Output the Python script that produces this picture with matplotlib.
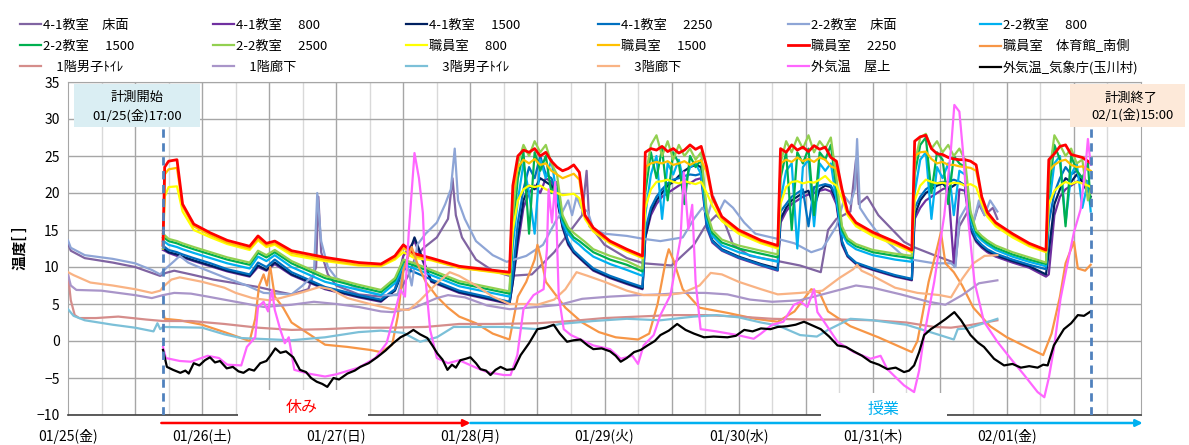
import matplotlib
matplotlib.use("Agg")
import matplotlib.pyplot as plt
from matplotlib.patches import Rectangle
from matplotlib.transforms import blended_transform_factory

plt.rcParams["font.family"] = ["Noto Sans CJK JP", "DejaVu Sans"]

# time axis: hours counted from 01/25 00:00
day_labels = ["01/25(金)", "01/26(土)", "01/27(日)", "01/28(月)", "01/29(火)",
              "01/30(水)", "01/31(木)", "02/01(金)", ""]
start_h, end_h = 17.0, 183.0

# common sampling hours for the classroom / staff-room loggers
t_room = [
    17.0, 17.3, 18.0, 19.5, 20.5, 22.5, 25.5, 28.5, 32.5, 34.0, 35.5, 37.0, 40.0, 46.0, 52.0, 56.0, 58.5, 60.0, 62.0, 65.0, 70.0, 79.0,
    79.6, 80.5, 81.5, 82.5, 83.5, 84.5, 85.5, 86.5, 87.5, 88.5, 89.5, 90.5, 91.5, 92.5, 94.0, 97.0, 100.0, 102.8,
    103.3, 104.3, 105.3, 106.3, 107.3, 108.3, 109.3, 110.3, 111.3, 112.3, 113.3, 114.3, 115.3, 117.0, 120.0, 124.0, 127.0,
    127.5, 128.5, 129.5, 130.5, 131.5, 132.5, 133.5, 134.5, 135.5, 136.5, 137.5, 138.5, 139.5, 141.0, 144.0, 148.0, 151.0,
    151.5, 152.5, 153.5, 154.5, 155.5, 156.5, 157.5, 158.5, 159.5, 160.5, 161.5, 162.5, 163.5, 164.5, 166.0, 169.0, 172.0, 175.0,
    175.5, 176.5, 177.5, 178.5, 179.5, 180.5, 181.5, 182.5, 183.0,
]

staff_2250 = [
    13.0, 23.5, 24.3, 24.5, 18.5, 15.8, 14.6, 13.6, 12.8, 14.2, 13.2, 13.5, 12.2, 11.3, 10.6, 10.4, 11.5, 13.0, 11.8, 11.2, 10.1, 9.3,
    21.0, 25.0, 25.8, 25.5, 26.0, 25.0, 25.5, 24.3, 23.5, 23.0, 23.3, 23.8, 22.8, 17.0, 15.3, 13.5, 12.4, 11.5,
    25.5, 26.0, 25.8, 26.3, 25.6, 26.0, 25.4, 25.8, 26.5, 25.9, 26.3, 23.5, 19.5, 16.8, 15.0, 13.6, 12.9,
    26.0, 25.5, 26.5, 25.8, 26.2, 25.6, 26.4, 25.9, 26.2, 24.8, 24.3, 20.5, 17.5, 16.0, 14.7, 13.4, 12.3,
    27.0, 27.6, 27.8, 26.0, 25.3, 25.2, 24.8, 24.6, 24.5, 24.5, 24.3, 23.8, 19.5, 17.4, 16.0, 14.5, 13.2, 12.3,
    24.5, 25.3, 26.3, 26.5, 25.2, 25.0, 24.8, 24.3, 24.0,
]
staff_1500 = [
    12.8, 22.5, 23.2, 23.4, 18.2, 15.5, 14.3, 13.3, 12.5, 13.8, 12.9, 13.2, 11.9, 11.0, 10.3, 10.2, 11.2, 12.6, 11.5, 11.0, 9.9, 9.1,
    20.0, 23.5, 24.5, 24.0, 24.6, 23.8, 24.0, 23.0, 22.5, 22.0, 22.3, 22.6, 21.8, 16.8, 15.0, 13.3, 12.2, 11.3,
    23.5, 24.0, 24.2, 24.0, 24.3, 23.8, 24.0, 24.3, 23.8, 24.2, 24.4, 22.8, 19.2, 16.6, 14.8, 13.4, 12.7,
    24.0, 24.5, 24.2, 24.8, 24.3, 24.6, 24.2, 24.8, 24.5, 23.6, 23.3, 20.2, 17.3, 15.8, 14.5, 13.2, 12.1,
    25.0, 25.5, 25.6, 24.6, 24.0, 24.2, 23.8, 23.8, 23.6, 23.5, 23.4, 23.0, 19.3, 17.2, 15.8, 14.3, 13.0, 12.1,
    23.0, 23.8, 24.3, 24.5, 23.8, 23.5, 23.6, 23.2, 23.0,
]
staff_800 = [
    12.5, 19.5, 20.8, 20.9, 17.5, 15.0, 14.0, 13.1, 12.3, 13.6, 12.7, 13.0, 11.6, 10.8, 10.2, 10.1, 11.0, 12.0, 11.2, 10.9, 9.9, 9.0,
    15.0, 19.0, 20.5, 21.0, 20.8, 21.0, 20.5, 20.2, 20.0, 19.7, 19.8, 19.9, 19.3, 16.5, 14.8, 13.2, 12.1, 11.2,
    18.0, 20.5, 21.5, 21.6, 21.8, 21.5, 21.3, 21.6, 21.4, 21.2, 21.5, 20.0, 18.3, 16.2, 14.5, 13.2, 12.5,
    18.5, 20.8, 21.5, 21.6, 21.3, 21.5, 21.4, 21.8, 22.3, 21.5, 21.0, 19.3, 17.0, 15.5, 14.2, 13.0, 12.0,
    19.0, 21.0, 21.8, 21.5, 21.3, 21.4, 21.2, 21.4, 21.3, 21.0, 21.2, 20.8, 18.6, 16.8, 15.5, 14.0, 12.8, 12.0,
    18.5, 20.3, 21.0, 21.5, 21.2, 21.5, 21.3, 21.0, 20.8,
]
room22_2500 = [
    14.5, 14.3, 13.8, 13.5, 13.2, 12.7, 12.0, 11.3, 10.6, 12.2, 11.6, 12.3, 10.8, 8.8, 7.6, 6.9, 8.5, 11.0, 10.5, 9.6, 8.1, 6.7,
    17.0, 24.0, 26.5, 25.0, 27.0, 25.5, 26.5, 24.0, 22.5, 17.0, 15.4, 14.6, 14.0, 13.4, 12.4, 11.5, 10.8, 9.8,
    22.0, 26.5, 27.8, 25.0, 27.0, 24.5, 26.5, 25.0, 26.0, 24.5, 25.5, 17.5, 15.0, 13.7, 12.9, 12.2, 11.7,
    24.0, 27.0, 25.5, 27.5, 26.0, 27.8, 25.5, 27.0, 26.0, 27.5, 22.0, 15.5, 13.9, 13.1, 12.3, 11.8, 11.5,
    24.0, 27.5, 28.0, 26.0, 27.0, 25.5, 26.5, 25.0, 26.0, 24.5, 17.5, 15.0, 14.2, 13.6, 12.9, 12.0, 11.3, 10.6,
    22.0, 27.8, 26.5, 25.0, 26.0, 24.0, 24.5, 19.0, 20.5,
]
room22_1500 = [
    14.0, 13.9, 13.5, 13.2, 12.9, 12.4, 11.7, 11.0, 10.3, 11.9, 11.3, 12.0, 10.5, 8.5, 7.3, 6.6, 8.2, 10.7, 10.2, 9.3, 7.8, 6.4,
    15.0, 22.0, 25.5, 14.5, 25.5, 23.0, 25.0, 20.0, 21.5, 16.5, 15.0, 14.0, 13.5, 12.9, 12.0, 11.0, 10.3, 9.4,
    20.0, 25.5, 22.0, 26.0, 19.0, 25.5, 24.0, 18.5, 25.0, 23.5, 24.5, 17.0, 14.6, 13.3, 12.5, 11.8, 11.3,
    22.0, 25.5, 15.0, 25.5, 24.0, 26.0, 17.0, 25.5, 24.5, 26.5, 20.5, 15.0, 13.6, 12.8, 12.0, 11.5, 11.2,
    22.5, 26.5, 27.5, 20.0, 25.5, 24.5, 18.5, 25.0, 24.0, 23.5, 17.0, 14.7, 13.9, 13.3, 12.6, 11.7, 11.0, 10.4,
    20.0, 26.5, 24.5, 15.5, 25.0, 23.0, 22.0, 24.0, 18.5,
]
room22_800 = [
    13.5, 13.4, 13.0, 12.7, 12.4, 11.9, 11.2, 10.5, 9.8, 11.4, 10.8, 11.6, 10.0, 8.0, 6.9, 6.2, 7.8, 10.3, 9.8, 8.9, 7.4, 6.0,
    13.0, 19.0, 24.0, 20.0, 14.5, 24.5, 22.0, 24.5, 19.5, 16.0, 14.5, 13.6, 13.0, 12.3, 11.4, 10.4, 9.6, 8.8,
    17.0, 22.5, 25.0, 16.5, 24.0, 22.5, 24.5, 21.0, 23.5, 24.0, 22.5, 16.5, 14.2, 12.9, 12.0, 11.2, 10.7,
    19.0, 23.0, 24.0, 12.5, 23.5, 24.5, 15.5, 24.0, 23.0, 24.0, 19.0, 14.5, 13.2, 12.4, 11.6, 11.0, 10.7,
    20.0, 24.5, 25.5, 16.5, 23.5, 22.0, 24.0, 17.0, 23.0, 22.5, 16.5, 14.4, 13.6, 13.0, 12.3, 11.4, 10.7, 10.1,
    18.0, 24.0, 25.0, 16.0, 22.5, 24.0, 18.0, 21.5, 17.5,
]
room41_2250 = [
    12.8, 12.7, 12.3, 12.0, 11.7, 11.2, 10.5, 9.7, 9.0, 10.6, 10.0, 11.0, 9.3, 7.3, 6.2, 5.6, 7.0, 9.8, 9.3, 8.3, 6.8, 5.3,
    9.0, 16.0, 20.5, 23.5, 22.0, 25.0, 22.5, 22.0, 20.0, 15.8, 13.5, 12.2, 11.5, 10.8, 9.8, 8.8, 8.0, 7.3,
    15.0, 18.0, 19.5, 20.5, 21.3, 21.8, 22.0, 22.3, 22.5, 22.4, 22.6, 15.5, 13.5, 12.3, 11.3, 10.3, 9.6,
    17.5, 18.5, 19.5, 20.0, 20.5, 15.5, 20.8, 21.0, 21.2, 21.0, 19.5, 13.5, 11.6, 10.6, 9.8, 8.9, 8.4,
    18.0, 19.5, 20.5, 21.0, 21.3, 21.5, 21.5, 21.8, 21.5, 21.0, 15.5, 13.8, 13.0, 12.4, 11.8, 11.0, 10.3, 9.7,
    16.0, 20.0, 22.0, 23.5, 22.5, 23.0, 22.0, 21.5, 20.5,
]
room41_1500 = [
    12.5, 12.4, 12.0, 11.7, 11.4, 10.9, 10.2, 9.5, 8.8, 10.2, 9.6, 10.6, 9.0, 7.1, 6.0, 5.4, 6.8, 9.6, 14.0, 8.1, 6.6, 5.1,
    8.0, 14.0, 19.0, 21.0, 20.5, 22.0, 21.5, 21.0, 19.0, 15.5, 13.2, 12.0, 11.3, 10.6, 9.6, 8.6, 7.8, 7.1,
    14.0, 17.5, 19.0, 20.0, 21.0, 21.5, 22.3, 23.0, 23.5, 23.8, 23.5, 15.8, 13.6, 12.4, 11.4, 10.4, 9.8,
    16.5, 18.0, 19.0, 19.5, 20.0, 20.3, 18.0, 20.5, 21.0, 20.8, 19.0, 13.3, 11.5, 10.5, 9.7, 8.8, 8.3,
    17.0, 19.0, 20.0, 20.5, 21.0, 21.3, 20.5, 21.0, 21.5, 21.0, 15.3, 13.6, 12.8, 12.2, 11.6, 10.8, 10.1, 9.0,
    12.0, 18.5, 20.5, 22.0, 21.5, 22.5, 21.5, 20.0, 19.5,
]
room41_800 = [
    12.3, 12.2, 11.9, 11.5, 11.3, 10.8, 10.1, 9.4, 8.7, 10.0, 9.5, 10.4, 8.9, 7.0, 5.9, 5.3, 6.9, 11.5, 13.5, 8.0, 6.5, 5.0,
    8.0, 13.0, 18.0, 20.0, 21.0, 20.0, 22.0, 21.5, 19.5, 15.3, 13.0, 11.9, 11.2, 10.5, 9.5, 8.5, 7.7, 7.0,
    14.0, 17.0, 18.5, 19.5, 20.0, 20.5, 21.0, 21.5, 21.3, 21.8, 22.0, 15.3, 13.3, 12.2, 11.2, 10.2, 9.5,
    16.0, 17.5, 18.5, 19.0, 19.5, 19.8, 20.0, 20.3, 20.5, 20.2, 18.5, 13.0, 11.4, 10.4, 9.6, 8.7, 8.2,
    16.5, 18.0, 19.0, 19.5, 20.0, 20.5, 20.8, 10.5, 20.5, 20.3, 15.0, 13.4, 12.6, 12.0, 11.4, 10.6, 9.9, 8.7,
    9.0, 17.0, 19.5, 20.5, 21.0, 21.5, 22.0, 21.0, 20.0,
]

# loggers with their own sampling: (hour, temperature)
floor_41 = [
    (0, 13.2), (0.5, 12.2), (3, 11.2), (8, 10.6), (12, 10.0), (15, 9.2), (16.5, 8.8), (17.5, 9.2), (19, 9.5), (22, 9.0),
    (26, 8.3), (30, 7.8), (34, 7.3), (38, 6.6), (40, 6.3), (43, 7.0), (44.4, 10.0), (44.8, 19.5), (45.3, 12.0), (46.5, 9.0),
    (48, 7.5), (52, 6.3), (56, 6.0), (59, 6.3), (61, 9.0), (62, 11.0), (63.5, 12.5), (66, 14.0), (68, 16.5), (68.8, 22.0),
    (69.4, 17.0), (70.5, 14.0), (73, 11.0), (76, 9.5), (79, 8.8), (83, 9.0), (87, 12.0), (90, 15.0), (92, 17.0), (92.8, 23.0),
    (93.3, 15.5), (94.5, 14.5), (96, 13.0), (100, 11.2), (103, 10.5), (108, 10.2), (112, 13.0), (114, 15.5), (116, 17.0),
    (117.5, 16.0), (119, 13.0), (122, 11.5), (127, 10.8), (131, 10.2), (134.7, 9.3), (136, 15.0), (137.5, 16.5), (140, 17.5),
    (141, 24.5), (141.5, 18.5), (143, 19.5), (145, 17.0), (149.6, 13.4), (151.3, 12.7), (155, 11.6), (158.2, 10.7),
    (158.7, 10.0), (159.5, 15.5), (161, 17.5), (162, 16.0), (163, 18.5), (164, 17.0), (165.5, 18.0), (166.3, 16.5),
]
floor_22 = [
    (0, 13.6), (0.5, 12.6), (3, 11.6), (8, 11.1), (12, 10.5), (15, 9.6), (16.5, 9.0), (17.5, 9.8), (19, 10.8), (20, 11.5),
    (21.5, 10.6), (24, 9.8), (28, 8.6), (32, 7.5), (35, 6.5), (40, 6.3), (42, 7.5), (44, 9.0), (44.6, 20.0), (45.3, 13.5),
    (46.5, 10.0), (48, 8.5), (52, 7.0), (56, 6.2), (59, 6.2), (60.5, 11.0), (61.5, 7.5), (62.5, 13.0), (64, 14.5), (66, 16.0),
    (67.5, 18.5), (68.5, 20.5), (69.2, 26.0), (69.8, 19.0), (71, 16.5), (73, 13.5), (76, 11.6), (78.5, 10.7), (82, 11.5),
    (85, 13.0), (87.5, 16.5), (88.5, 17.5), (89.5, 19.0), (90.2, 17.0), (91, 19.5), (91.8, 18.0), (93, 17.5), (94, 15.1),
    (96, 14.5), (100, 14.2), (103, 13.8), (106, 13.5), (110, 14.0), (112, 16.5), (113.5, 18.0), (114.5, 17.0), (115.5, 19.5),
    (116.5, 17.5), (117.5, 19.0), (119, 18.0), (121, 16.0), (123, 14.5), (127, 13.8), (130, 13.2), (133, 12.0), (135, 12.5),
    (137.5, 15.5), (139, 19.5), (140, 18.5), (140.8, 20.5), (141.2, 27.3), (141.7, 18.0), (143, 16.5), (145, 14.5),
    (149, 11.8), (151, 11.0), (155, 10.5), (158, 10.5), (158.8, 10.0), (159.5, 16.5), (161, 18.5), (162, 16.0), (163, 19.0),
    (164, 17.0), (165, 19.0), (166.3, 17.5),
]
gym_south = [
    (17.0, 4.0), (17.3, 3.0), (20, 2.8), (24, 2.2), (28, 1.2), (31, 0.4), (32.5, 0.0), (33.5, 3.0), (34.2, 7.5), (35.0, 9.0),
    (35.6, 7.5), (36.2, 10.0), (37.0, 6.0), (38.5, 4.5), (40, 2.5), (42, 1.5), (44, 0.5), (46, -0.5), (50, -0.8), (54, -1.2),
    (56, -1.5), (58, -0.5), (59, 3.3), (60, 9.6), (61.5, 12.7), (62.5, 10.5), (64, 8.0), (66, 6.0), (68, 4.5), (70, 3.3),
    (73, 2.4), (76, 1.0), (79, 0.2), (80.5, 6.0), (82, 8.0), (83.5, 11.0), (84, 13.0), (84.7, 11.0), (85.5, 8.0), (87, 6.5),
    (89, 4.5), (92, 2.5), (95, 1.2), (98, 0.5), (102, 0.2), (104, 1.0), (105.5, 5.0), (107, 11.0), (107.5, 12.4), (108.3, 11.0),
    (110, 7.0), (113, 4.5), (118, 3.8), (123, 3.0), (127, 2.6), (130, 4.0), (133, 7.0), (134.5, 6.5), (136, 4.0), (140, 2.0),
    (145, 0.5), (148, -0.5), (151, -1.5), (152, 0.0), (154, 8.0), (155.5, 12.5), (156.2, 14.7), (157, 10.5), (158.5, 9.3),
    (160, 7.5), (162, 4.5), (165, 2.0), (168, 0.5), (172, -1.0), (174.5, -1.9), (176, 1.0), (177.5, 6.0), (178.5, 10.5),
    (180, 13.4), (180.7, 9.8), (182, 9.5), (183, 10.3),
]
toilet_1f = [
    (0, 9.0), (0.5, 5.5), (1.2, 3.5), (2, 3.1), (5, 3.1), (9, 3.3), (14, 2.9), (17, 2.7), (22, 2.7), (28, 2.3), (34, 1.8),
    (40, 1.5), (46, 1.6), (52, 1.8), (58, 1.8), (64, 1.9), (70, 2.3), (76, 2.3), (84, 2.4), (90, 2.7), (96, 3.1), (102, 3.3),
    (108, 3.5), (114, 3.5), (120, 3.3), (126, 3.0), (132, 2.9), (138, 2.9), (144, 2.8), (150, 2.5), (155, 1.9), (158, 1.8),
    (161, 2.1), (166.3, 2.8),
]
corridor_1f = [
    (0, 9.0), (0.5, 7.5), (1.5, 6.9), (6, 6.8), (12, 6.2), (15, 5.8), (17, 6.2), (19, 6.5), (22, 6.4), (25, 6.0), (30, 5.3),
    (35, 4.6), (40, 4.9), (44, 5.3), (48, 5.0), (52, 4.6), (56, 4.0), (58, 3.9), (62, 4.5), (66, 5.8), (68, 6.2), (71, 5.9),
    (75, 4.8), (79, 4.3), (84, 4.6), (88, 4.9), (92, 5.7), (97, 6.0), (102, 6.2), (106, 6.3), (110, 6.5), (114, 6.5),
    (118, 6.3), (122, 5.6), (126, 5.3), (131, 5.5), (136, 6.5), (141, 7.5), (144, 7.2), (149, 6.3), (154, 5.3), (157, 4.9),
    (160, 6.2), (163, 7.8), (166.3, 8.2),
]
toilet_3f = [
    (0, 4.3), (1, 3.4), (3, 2.8), (8, 2.2), (12, 1.8), (15.3, 1.3), (16, 2.4), (16.5, 1.6), (17, 1.9), (24, 1.8), (28, 0.9),
    (31, 0.4), (34, 0.3), (40, 0.1), (46, 0.5), (52, 1.2), (56, 1.4), (60, 1.1), (63, -0.1), (66, 0.5), (69, 1.9), (72, 1.9),
    (78, 1.9), (84, 1.6), (88, 2.3), (94, 2.7), (100, 3.0), (106, 2.8), (112, 3.3), (116, 3.5), (120, 3.2), (124, 2.5),
    (127, 2.1), (131, 0.8), (134, 0.6), (136, 1.5), (140, 3.0), (144, 2.8), (150, 2.2), (156, 0.8), (158.5, 0.2),
    (159.2, 1.6), (161, 1.7), (166.3, 3.0),
]
corridor_3f = [
    (0, 9.3), (1, 8.9), (4, 7.9), (8, 7.5), (12, 7.0), (15, 6.5), (16.5, 6.8), (17, 7.3), (18.5, 8.3), (20, 8.6), (22, 8.3),
    (24, 8.0), (28, 7.2), (30, 6.5), (33, 5.8), (36, 5.5), (38, 5.8), (42, 6.6), (45, 7.3), (47, 7.0), (50, 5.8), (54, 5.0),
    (58, 4.3), (61, 4.2), (63, 5.5), (66, 7.8), (68.3, 9.3), (70, 8.8), (73, 7.5), (76, 6.0), (79, 5.0), (82, 5.0), (84, 4.9),
    (87, 5.6), (89, 7.0), (91, 9.3), (93, 8.8), (96, 8.0), (100, 6.8), (103, 6.2), (107, 6.2), (110, 6.5), (113, 7.5),
    (115, 9.2), (117, 9.0), (120, 8.0), (124, 7.0), (127, 6.3), (131, 6.5), (135, 6.8), (138, 8.5), (140.5, 9.7),
    (141.2, 10.3), (142, 9.5), (144, 8.8), (148, 7.2), (152, 6.5), (156, 6.2), (158, 5.9), (160, 8.4), (162, 10.5),
    (164, 11.5), (166.3, 11.6),
]
outdoor_roof = [
    (17.0, -0.8), (17.5, -2.3), (20, -2.7), (22, -2.8), (25, -2.0), (27, -2.3), (28.5, -3.2), (31, -3.3), (32, -0.8),
    (33.5, 0.5), (34.0, 4.6), (35, 5.3), (35.8, 4.0), (36.5, 6.9), (37.0, 4.2), (38, 1.5), (38.8, -0.3), (39.5, 0.5),
    (40.5, -3.9), (43, -4.4), (46, -4.8), (48, -4.5), (52, -3.6), (55, -2.3), (57, -0.3), (58.3, 3.3), (59.5, 6.9),
    (60.3, 6.0), (61, 15.0), (62.0, 25.4), (62.8, 22.0), (63.5, 17.3), (64, 8.2), (64.8, 1.5), (66, -2.3), (68, -3.0),
    (70, -2.6), (73, -3.6), (75, -4.2), (78, -4.6), (79.2, -4.6), (80.4, -1.9), (81.5, 4.3), (83.3, 6.2), (85.1, 7.0),
    (85.7, 12.4), (86.0, 20.5), (86.6, 16.0), (87.2, 21.5), (87.8, 6.2), (88.7, 1.6), (90, 0.8), (94, -0.6), (97, -1.1),
    (98.9, -2.4), (101, -2.0), (102, -3.1), (103, -0.6), (104.8, 0.8), (106, 3.5), (107.8, 6.2), (109.6, 13.8),
    (110.2, 22.8), (111, 15.1), (111.7, 18.4), (112.3, 8.0), (113.2, 1.6), (116, 1.3), (119.8, 0.8), (122.7, 0.3),
    (124, 1.0), (126, 2.2), (128, 2.6), (129.9, 4.9), (131.1, 5.3), (132.3, 4.6), (133.5, 7.0), (134.1, 3.9), (135.3, 2.6),
    (137.7, -0.1), (140.6, -1.5), (143.6, -2.4), (145.4, -2.0), (146.6, -3.8), (149.6, -6.0), (151.4, -6.9), (152.3, -4.0),
    (153.2, 0.8), (155, 8.0), (156.8, 17.0), (158, 26.0), (158.6, 31.9), (159.5, 31.0), (160.1, 26.0), (161, 17.0),
    (162.2, 8.0), (163.9, 2.6), (166.3, -0.1), (168.7, -2.4), (171.1, -4.6), (173.5, -6.9), (174.7, -7.6), (175.5, -5.0),
    (176.4, -1.1), (177.6, 5.7), (178.8, 10.3), (180, 14.7), (181.2, 17.8), (182.1, 23.8), (182.5, 27.3), (183, 23.8),
]
outdoor_jma = [
    (17.0, -1.2), (17.3, -2.2), (17.7, -3.5), (18.8, -3.9), (20.1, -4.3), (21.0, -4.0), (21.6, -4.4), (22.5, -3.0),
    (23.5, -3.3), (24.5, -2.6), (25.4, -2.2), (26.3, -2.9), (27.2, -2.7), (28.4, -3.7), (29.5, -3.5), (30.5, -4.1),
    (31.4, -4.3), (32.4, -3.8), (33.3, -4.0), (34.4, -3.0), (35.5, -2.7), (36.3, -1.9), (37.1, -1.0), (38.0, -1.6),
    (39.0, -1.4), (40.3, -2.2), (41.5, -3.9), (42.6, -4.2), (43.5, -5.0), (44.5, -5.5), (45.5, -5.8), (46.4, -6.2),
    (47.5, -5.0), (48.5, -5.2), (50.0, -4.4), (51.3, -4.0), (52.3, -3.5), (53.8, -3.0), (55.3, -2.2), (56.8, -1.3),
    (58.2, -0.3), (59.5, 0.5), (60.8, 1.0), (61.8, 1.5), (63.0, 0.9), (64.3, 0.4), (65.2, -0.6), (66.1, -1.7),
    (67.0, -2.5), (67.9, -3.9), (68.7, -3.2), (69.4, -3.6), (70.2, -2.6), (71.2, -2.4), (72.0, -2.2), (73.0, -3.0),
    (73.8, -3.8), (74.8, -4.0), (75.6, -4.6), (76.5, -3.9), (77.4, -3.5), (78.5, -3.9), (79.8, -3.8), (81.0, -1.9),
    (82.5, -0.3), (84.0, 1.6), (85.5, 1.8), (86.9, 2.2), (88.0, 1.0), (89.3, -0.1), (90.5, 0.1), (91.7, 0.2), (93.0, -0.6),
    (94.0, -1.1), (95.5, -1.0), (97.0, -1.4), (98.0, -2.0), (98.9, -2.8), (100.0, -2.3), (101.3, -1.5), (102.5, -1.2),
    (103.7, -0.6), (105.0, 0.0), (106.0, 0.8), (107.5, 1.4), (109.0, 2.3), (110.5, 1.5), (112.0, 1.0), (113.8, 0.5),
    (115.5, 0.6), (118.0, 0.5), (119.5, 0.7), (121.0, 1.5), (122.5, 1.3), (124.0, 1.7), (125.7, 1.6), (127.0, 1.9),
    (128.7, 2.0), (130.2, 2.2), (131.7, 2.6), (133.2, 2.1), (134.7, 1.6), (136.2, 0.6), (137.7, -0.6), (139.2, -0.8),
    (140.6, -1.4), (142.1, -2.0), (143.6, -2.8), (145.1, -3.2), (146.6, -3.8), (148.1, -3.6), (149.6, -4.2), (150.5, -4.0),
    (151.4, -3.3), (152.3, -1.5), (153.2, 0.8), (154.4, 1.6), (155.6, 2.2), (157.1, 3.0), (158.6, 3.9), (159.8, 2.8),
    (161.5, 0.8), (162.8, -0.2), (163.9, -0.8), (165.7, -2.4), (167.5, -3.3), (169.0, -3.1), (170.5, -3.6), (172.0, -3.4),
    (173.5, -3.6), (174.5, -3.2), (175.3, -3.3), (176.4, -0.6), (177.3, 0.5), (178.2, 1.6), (179.5, 2.4), (180.7, 3.5),
    (181.8, 3.4), (183.0, 4.0),
]

series = [
    ("4-1教室　床面", "#8064A2", None, floor_41),
    ("4-1教室　 800", "#7030A0", room41_800, None),
    ("4-1教室　 1500", "#002060", room41_1500, None),
    ("4-1教室　 2250", "#0070C0", room41_2250, None),
    ("2-2教室　床面", "#8EA5D6", None, floor_22),
    ("2-2教室　 800", "#00B0F0", room22_800, None),
    ("2-2教室　 1500", "#00B050", room22_1500, None),
    ("2-2教室　 2500", "#92D050", room22_2500, None),
    ("職員室　 800", "#FFFF00", staff_800, None),
    ("職員室　 1500", "#FFC000", staff_1500, None),
    ("職員室　 2250", "#FF0000", staff_2250, None),
    ("職員室　体育館_南側", "#F79646", None, gym_south),
    ("　1階男子ﾄｲﾚ", "#D58D8B", None, toilet_1f),
    ("　1階廊下", "#A995C9", None, corridor_1f),
    ("　3階男子ﾄｲﾚ", "#7CC0D8", None, toilet_3f),
    ("　3階廊下", "#F9B384", None, corridor_3f),
    ("外気温　屋上", "#FF66FF", None, outdoor_roof),
    ("外気温_気象庁(玉川村)", "#000000", None, outdoor_jma),
]

W, H = 1189, 445
fig = plt.figure(figsize=(W / 100, H / 100), dpi=100)
ax = fig.add_axes([68 / W, 30 / H, 1073 / W, 333 / H])
ax.set_xlim(0, 192)
ax.set_ylim(-10, 35)
ax.set_axisbelow(True)

handles = []
for i, (label, color, vals, pairs) in enumerate(series):
    if vals is not None:
        assert len(vals) == len(t_room), label
        xs, ys = t_room, vals
    else:
        xs = [p[0] for p in pairs]
        ys = [p[1] for p in pairs]
    lw = 2.0 if color == "#FF0000" else 1.6
    (line,) = ax.plot(xs, ys, color=color, lw=lw, solid_joinstyle="round", zorder=3 + i * 0.05)
    handles.append(line)

# grid: 6-hour verticals, darker every 12 hours
for h in range(6, 192, 6):
    ax.axvline(h, color="#A6A6A6" if h % 12 == 0 else "#D9D9D9", lw=1.0, zorder=0.5)
ax.set_yticks(range(-10, 36, 5))
ax.grid(axis="y", color="#A6A6A6", lw=1.0)
ax.set_xticks(range(0, 193, 24))
ax.set_xticklabels(day_labels)
ax.tick_params(axis="x", length=0, pad=10, labelsize=10)
ax.tick_params(axis="y", length=0, pad=6, labelsize=10)
for side in ("top", "right", "left"):
    ax.spines[side].set_color("#A6A6A6")
ax.spines["bottom"].set_color("#404040")
ax.spines["bottom"].set_linewidth(1.2)
ax.set_ylabel("温度[ ]", fontsize=10.5, fontweight="bold", labelpad=6)

trans = blended_transform_factory(ax.transData, ax.transAxes)

# measurement start / end markers
ax.axvline(start_h, ymin=0, ymax=0.862, color="#4F81BD", lw=2.0, ls=(0, (3, 2)), zorder=6)
ax.axvline(end_h, ymin=0, ymax=0.862, color="#4F81BD", lw=2.0, ls=(0, (3, 2)), zorder=6)
ax.add_patch(Rectangle((1.1, 0.866), 22.5, 0.128, transform=trans, facecolor="#DAEEF3",
                       edgecolor="none", clip_on=False, zorder=7))
ax.text(12.4, 0.955, "計測開始", transform=trans, ha="center", va="center", fontsize=9.5, zorder=8)
ax.text(12.4, 0.900, "01/25(金)17:00", transform=trans, ha="center", va="center", fontsize=9.5, zorder=8)
ax.add_patch(Rectangle((179.3, 0.866), 20.6, 0.128, transform=trans, facecolor="#FDE9D9",
                       edgecolor="none", clip_on=False, zorder=7))
ax.text(190.2, 0.952, "計測終了", transform=trans, ha="center", va="center", fontsize=9.5, zorder=8)
ax.text(190.4, 0.903, "02/1(金)15:00", transform=trans, ha="center", va="center", fontsize=9.5, zorder=8)

# holiday / class period labels along the bottom
ax.add_patch(Rectangle((30.4, -0.013), 23.2, 0.088, transform=trans, facecolor="white",
                       edgecolor="none", clip_on=False, zorder=2.7))
ax.text(41.9, 0.022, "休み", transform=trans, ha="center", va="center", fontsize=11.5, color="#FF0000", zorder=8)
ax.add_patch(Rectangle((134.7, -0.013), 22.6, 0.079, transform=trans, facecolor="white",
                       edgecolor="none", clip_on=False, zorder=2.7))
ax.text(146.0, 0.016, "授業", transform=trans, ha="center", va="center", fontsize=11.5, color="#00B0F0", zorder=8)

arrow_kw = dict(arrowstyle="-|>", lw=1.8, mutation_scale=10, shrinkA=0, shrinkB=0)
ax.annotate("", xy=(72, -0.024), xytext=(16.7, -0.024), xycoords=trans, textcoords=trans,
            arrowprops=dict(color="#FF0000", **arrow_kw), annotation_clip=False)
ax.annotate("", xy=(192.3, -0.024), xytext=(72, -0.024), xycoords=trans, textcoords=trans,
            arrowprops=dict(color="#00B0F0", **arrow_kw), annotation_clip=False)

# legend: 3 rows x 6 columns, row-major
col_x = [20, 213, 406, 598, 788, 980]
for c, x in enumerate(col_x):
    idx = [r * 6 + c for r in range(3)]
    fig.legend([handles[i] for i in idx], [series[i][0] for i in idx], loc="upper left",
               bbox_to_anchor=(x / W, 1 - 19 / H), frameon=False, fontsize=9.5,
               handlelength=1.6, handletextpad=0.15, labelspacing=0.6,
               borderpad=0, borderaxespad=0)

fig.savefig("out.png", dpi=100)
